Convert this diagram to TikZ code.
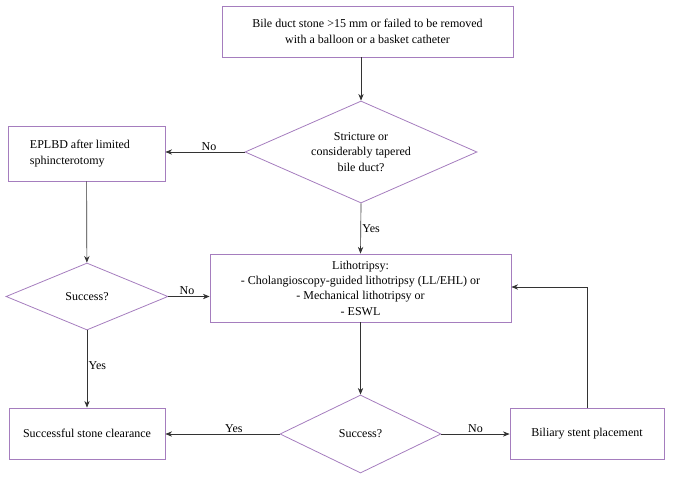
\documentclass[tikz,border=0pt]{standalone}
\usepackage{fontspec}
\setmainfont{Liberation Serif}
\usetikzlibrary{shapes.geometric,arrows.meta}
\definecolor{bord}{RGB}{165,125,190}
\begin{document}
\begin{tikzpicture}[x=0.75pt,y=-0.75pt,font=\fontsize{9}{11.5}\selectfont,
  box/.style={draw=bord,line width=0.6pt,align=center,inner sep=2pt},
  dia/.style={draw=bord,line width=0.6pt,shape=diamond,align=center,inner sep=0pt,aspect=2.3},
  arr/.style={-{Stealth[length=5pt,width=4pt]},line width=0.5pt,draw=black!80},
  lab/.style={inner sep=1pt}]
\useasboundingbox (0,0) rectangle (673,481);
\node[box,minimum width=291*0.75pt,minimum height=51*0.75pt] (top) at (367.5,31.5) {Bile duct stone {>}15 mm or failed to be removed\\with a balloon or a basket catheter};
\node[dia,minimum width=232*0.75pt,minimum height=102*0.75pt] (d1) at (361,152) {Stricture or\\considerably tapered\\bile duct?};
\node[box,minimum width=157*0.75pt,minimum height=55*0.75pt,align=left] (ep) at (86.5,153.5) {EPLBD after limited\\sphincterotomy\hspace*{3.2em}};
\node[dia,minimum width=162*0.75pt,minimum height=67*0.75pt] (d2) at (87,296.5) {Success?};
\node[box,minimum width=301*0.75pt,minimum height=68*0.75pt] (li) at (360.5,288) {Lithotripsy:\\- Cholangioscopy-guided lithotripsy (LL/EHL) or\\- Mechanical lithotripsy or\\- ESWL};
\node[dia,minimum width=161*0.75pt,minimum height=78*0.75pt] (d3) at (360.5,434) {Success?};
\node[box,minimum width=156*0.75pt,minimum height=51*0.75pt] (sc) at (87,433.5) {Successful stone clearance};
\node[box,minimum width=154*0.75pt,minimum height=51*0.75pt] (bs) at (587,433.5) {Biliary stent placement};
\draw[arr] (d1.north |- top.south) -- (d1.north);
\draw[arr] (d1.west) -- node[lab,above,pos=0.45] {No} (d1.west -| ep.east);
\draw[arr] (d1.south) -- node[lab,right,pos=0.5] {Yes} (li.north);
\draw[arr] (ep) -- (d2);
\draw[arr] (d2.east) -- node[lab,above,pos=0.45] {No} (d2.east -| li.west);
\draw[arr] (d2.south) -- node[lab,right,pos=0.45] {Yes} (sc.north);
\draw[arr] (li) -- (d3);
\draw[arr] (d3.west) -- node[lab,above,pos=0.4] {Yes} (d3.west -| sc.east);
\draw[arr] (d3.east) -- node[lab,above,pos=0.5] {No} (d3.east -| bs.west);
\coordinate (c1) at (587,287);
\draw[arr] (bs.north) -- (c1) -- (c1 -| li.east);
\end{tikzpicture}
\end{document}
